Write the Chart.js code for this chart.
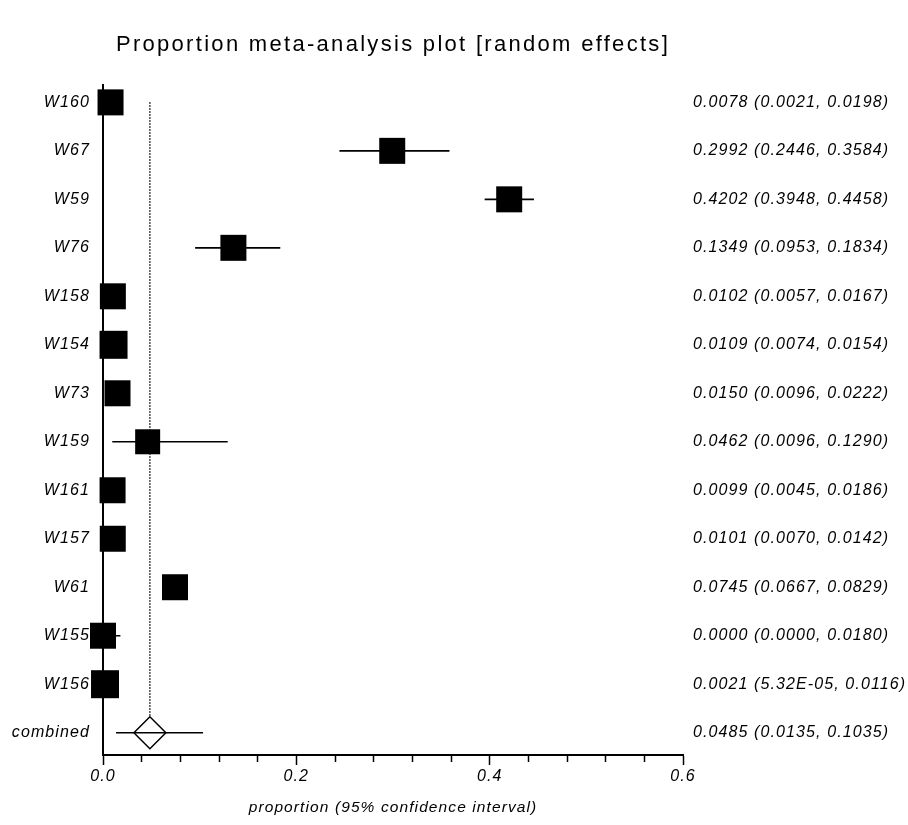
<!DOCTYPE html>
<html lang="en">
<head>
  <meta charset="UTF-8" />
  <title>Proportion meta-analysis plot</title>
  <script src="https://cdn.jsdelivr.net/npm/chart.js"></script>
  <style>
    html, body { margin: 0; padding: 0; background: #fff; }
    canvas { display: block; }
  </style>
</head>
<body>
  <canvas id="forest" width="908" height="825"></canvas>

  <script>
    // Study rows, top to bottom (last row is the pooled estimate)
    const studies = ['W160', 'W67', 'W59', 'W76', 'W158', 'W154', 'W73', 'W159', 'W161', 'W157', 'W61', 'W155', 'W156', 'combined'];
    const estimate = [0.0078, 0.2992, 0.4202, 0.1349, 0.0102, 0.0109, 0.0150, 0.0462, 0.0099, 0.0101, 0.0745, 0.0000, 0.0021, 0.0485];
    const lower = [0.0021, 0.2446, 0.3948, 0.0953, 0.0057, 0.0074, 0.0096, 0.0096, 0.0045, 0.0070, 0.0667, 0.0000, 0.0000532, 0.0135];
    const upper = [0.0198, 0.3584, 0.4458, 0.1834, 0.0167, 0.0154, 0.0222, 0.1290, 0.0186, 0.0142, 0.0829, 0.0180, 0.0116, 0.1035];
    const ciLabels = [
      '0.0078 (0.0021, 0.0198)', '0.2992 (0.2446, 0.3584)', '0.4202 (0.3948, 0.4458)',
      '0.1349 (0.0953, 0.1834)', '0.0102 (0.0057, 0.0167)', '0.0109 (0.0074, 0.0154)',
      '0.0150 (0.0096, 0.0222)', '0.0462 (0.0096, 0.1290)', '0.0099 (0.0045, 0.0186)',
      '0.0101 (0.0070, 0.0142)', '0.0745 (0.0667, 0.0829)', '0.0000 (0.0000, 0.0180)',
      '0.0021 (5.32E-05, 0.0116)', '0.0485 (0.0135, 0.1035)'
    ];
    const xTickValues = [0, 0.2, 0.4, 0.6];
    const xTickLabels = ['0.0', '0.2', '0.4', '0.6'];

    // marker box side in px (style only)
    const boxSide = [26, 26, 26, 26, 26, 28, 26, 25, 26, 26, 26, 26, 28];

    const pooledRow = studies.length - 1;
    Chart.defaults.font.family = "'Liberation Sans', Arial, sans-serif";
    Chart.defaults.color = '#000';

    const squares = [];
    for (let i = 0; i < pooledRow; i++) squares.push({ x: estimate[i], y: i });

    // horizontal CI segments, broken by null points
    const ciSegments = [];
    studies.forEach((s, i) => {
      ciSegments.push({ x: lower[i], y: i }, { x: upper[i], y: i }, { x: null, y: null });
    });

    const tickIndex = v => xTickValues.findIndex(t => Math.abs(t - v) < 1e-9);

    // the original output has widely tracked text
    const letterSpacing = {
      id: 'letterSpacing',
      afterInit(chart) {
        const tb = chart.titleBlock;
        const orig = tb.draw.bind(tb);
        tb.draw = function () {
          const c = chart.ctx;
          const prev = c.letterSpacing;
          c.letterSpacing = '2.3px';
          orig();
          c.letterSpacing = prev;
        };
      },
      beforeDraw(chart) {
        chart.ctx.letterSpacing = '1.1px';
      }
    };

    new Chart(document.getElementById('forest'), {
      type: 'scatter',
      data: {
        datasets: [
          {
            label: 'estimate',
            data: squares,
            pointStyle: 'rect',
            pointRadius: boxSide.map(s => s / Math.SQRT2),
            pointHoverRadius: boxSide.map(s => s / Math.SQRT2),
            backgroundColor: '#000',
            borderWidth: 0,
            clip: false,
            order: 0
          },
          {
            label: 'ci',
            data: ciSegments,
            showLine: true,
            spanGaps: false,
            borderColor: '#000',
            borderWidth: 1.6,
            pointRadius: 0,
            clip: false,
            order: 1
          },
          {
            label: 'pooled',
            data: [{ x: estimate[pooledRow], y: pooledRow }],
            pointStyle: 'rectRot',
            pointRadius: 16,
            backgroundColor: '#fff',
            borderColor: '#000',
            borderWidth: 1.5,
            clip: false,
            order: 3
          },
          {
            label: 'pooled line',
            data: [{ x: estimate[pooledRow], y: 0 }, { x: estimate[pooledRow], y: pooledRow }],
            showLine: true,
            borderColor: '#000',
            borderWidth: 1.4,
            borderDash: [1.5, 1.5],
            pointRadius: 0,
            clip: false,
            order: 4
          }
        ]
      },
      options: {
        responsive: false,
        animation: false,
        events: [],
        layout: { padding: 0 },
        plugins: {
          legend: { display: false },
          tooltip: { enabled: false },
          title: {
            display: true,
            text: 'Proportion meta-analysis plot [random effects]',
            fullSize: false,
            color: '#000',
            font: { size: 22, weight: 'normal' },
            padding: { top: 32, bottom: 27 }
          }
        },
        scales: {
          x: {
            type: 'linear',
            position: 'bottom',
            min: 0,
            max: 0.6,
            border: { color: '#000', width: 2 },
            grid: {
              drawOnChartArea: false,
              drawTicks: true,
              tickLength: 10,
              tickColor: '#000',
              tickWidth: 1.5,
              tickBorderDash: ctx => (tickIndex(ctx.tick.value) >= 0 ? [] : [6, 100])
            },
            ticks: {
              stepSize: 0.04,
              autoSkip: false,
              maxRotation: 0,
              padding: 2,
              font: { size: 16, style: 'italic' },
              callback: v => {
                const k = tickIndex(v);
                return k >= 0 ? xTickLabels[k] : '';
              }
            },
            title: {
              display: true,
              text: 'proportion (95% confidence interval)',
              font: { size: 15.5, style: 'italic' },
              padding: { top: 4, bottom: 8 }
            },
            afterFit: s => { s.height = 70; }
          },
          y: {
            type: 'linear',
            position: 'left',
            reverse: true,
            min: -0.35,
            max: 13.46,
            border: { color: '#000', width: 2 },
            grid: { drawOnChartArea: false, drawTicks: false },
            ticks: {
              stepSize: 1,
              includeBounds: false,
              autoSkip: false,
              padding: 13,
              font: { size: 16, style: 'italic' },
              callback: v => studies[Math.round(v)] ?? ''
            },
            afterFit: s => { s.width = 103; }
          },
          yr: {
            type: 'linear',
            position: 'right',
            reverse: true,
            min: -0.35,
            max: 13.46,
            border: { display: false },
            grid: { display: false, drawTicks: false },
            ticks: {
              stepSize: 1,
              includeBounds: false,
              autoSkip: false,
              padding: 10,
              font: { size: 16, style: 'italic' },
              callback: v => ciLabels[Math.round(v)] ?? ''
            },
            afterFit: s => { s.width = 225; }
          }
        }
      },
      plugins: [letterSpacing]
    });
  </script>
</body>
</html>
